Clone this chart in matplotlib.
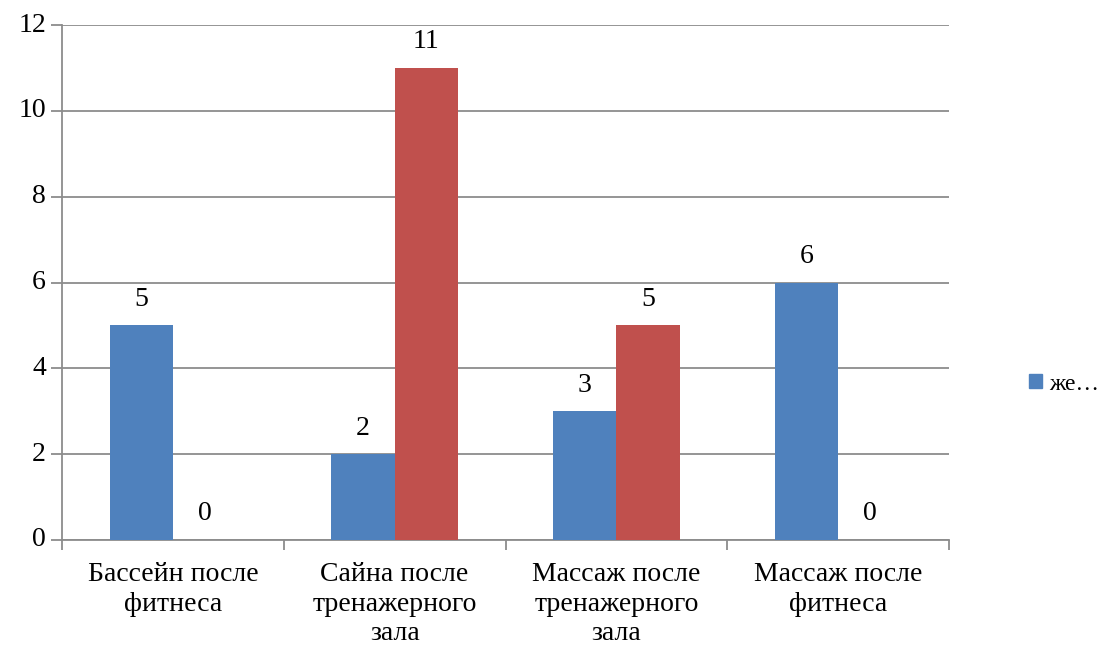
import matplotlib
matplotlib.use("Agg")
import matplotlib.pyplot as plt
import matplotlib.transforms as mtransforms
from matplotlib.patches import Patch
import numpy as np

categories = ["Бассейн после\nфитнеса", "Сайна после\nтренажерного\nзала",
              "Массаж после\nтренажерного\nзала", "Массаж после\nфитнеса"]
series_a = [5, 2, 3, 6]
series_b = [0, 11, 5, 0]
legend_label = "же…"
yticks = [0, 2, 4, 6, 8, 10, 12]

blue = "#4F81BD"
red = "#C0504D"
grid_c = "#8C8C8C"
SERIF = "Liberation Serif"
FS = 20

fig = plt.figure(figsize=(11.03, 6.5), dpi=100)
ax = fig.add_axes([62 / 1103, 1 - 540 / 650, (949 - 62) / 1103, (540 - 25) / 650])

x = np.arange(len(categories))
w = 0.285
ax.bar(x - w / 2, series_a, w, color=blue, zorder=3)
ax.bar(x + w / 2, series_b, w, color=red, zorder=3)

# value labels above each bar
lift = mtransforms.offset_copy(ax.transData, fig=fig, x=0, y=26, units="dots")
for xs, vals in ((x - w / 2, series_a), (x + w / 2, series_b)):
    for xi, v in zip(xs, vals):
        ax.text(xi, v, str(v), transform=lift, ha="center", va="center",
                family=SERIF, fontsize=FS)

ax.set_xlim(-0.5, len(categories) - 0.5)
ax.set_ylim(0, 12)

# y ticks with labels written as plain text next to them
ax.set_yticks(yticks)
ax.set_yticklabels([])
ylab = mtransforms.offset_copy(ax.get_yaxis_transform(), fig=fig, x=-16, y=0, units="dots")
for t in yticks:
    ax.text(0, t, str(t), transform=ylab, ha="right", va="center",
            family=SERIF, fontsize=FS)
ax.yaxis.grid(True, color=grid_c, linewidth=1.3, zorder=0)

# boundary ticks between categories, category names centred under groups
ax.set_xticks(np.arange(-0.5, len(categories)))
ax.set_xticklabels([])
xlab = mtransforms.offset_copy(ax.get_xaxis_transform(), fig=fig, x=0, y=-22, units="dots")
for xi, name in zip(x, categories):
    ax.text(xi, 0, name, transform=xlab, ha="center", va="top",
            family=SERIF, fontsize=FS, linespacing=1.25)

ax.tick_params(axis="x", length=7, width=1.3, color=grid_c, direction="out")
ax.tick_params(axis="y", length=8, width=1.3, color=grid_c)

for s in ["top", "right"]:
    ax.spines[s].set_visible(False)
for s in ["left", "bottom"]:
    ax.spines[s].set_color(grid_c)
    ax.spines[s].set_linewidth(1.3)

leg = fig.legend(handles=[Patch(color=blue, label=legend_label)],
                 loc="center left", bbox_to_anchor=(1029 / 1103, 1 - 384 / 650),
                 frameon=False, prop={"family": SERIF, "size": 17},
                 handlelength=0.55, handleheight=0.55,
                 handletextpad=0.3, borderaxespad=0, borderpad=0)
for txt in leg.get_texts():
    txt.set_family(SERIF)

fig.savefig("out.png", dpi=100)
